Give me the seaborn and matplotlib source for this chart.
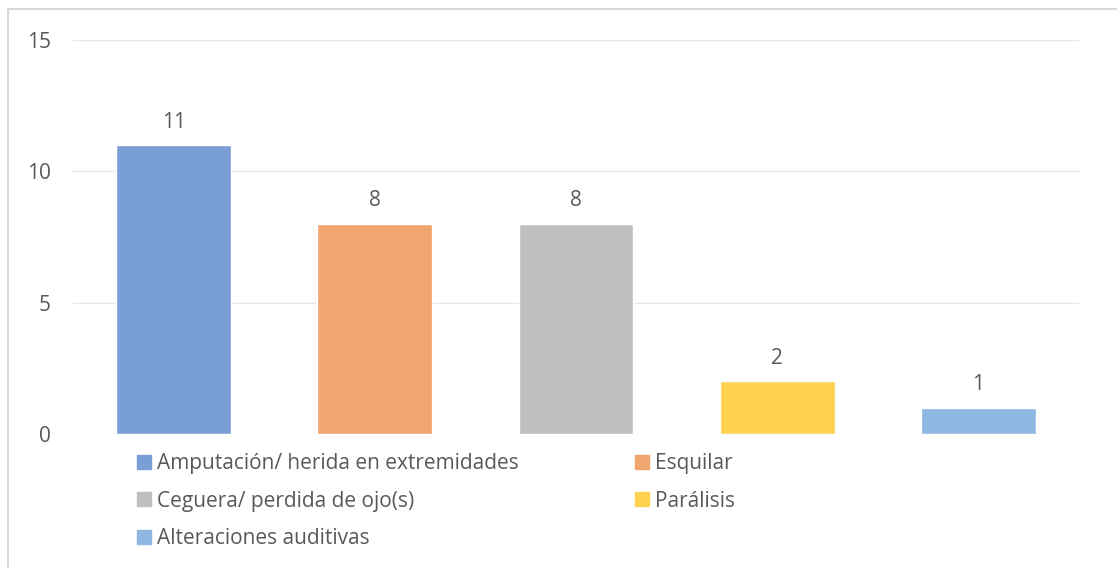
import matplotlib
matplotlib.use("Agg")
import matplotlib.pyplot as plt
import matplotlib.patches as mpatches
from matplotlib.lines import Line2D
import pandas as pd
import seaborn as sns

# data
categories = [
    "Amputación/ herida en extremidades",
    "Esquilar",
    "Ceguera/ perdida de ojo(s)",
    "Parálisis",
    "Alteraciones auditivas",
]
values = [11, 8, 8, 2, 1]
colors = ["#7A9ED6", "#F1A56F", "#BFBFBF", "#FFD34F", "#8EB8E1"]
yticks = [0, 5, 10, 15]

text_color = "#595959"
fs = 15

sns.set_theme(style="white")
plt.rcParams["font.family"] = ["Open Sans", "DejaVu Sans"]

df = pd.DataFrame({"categoria": categories, "valor": values})

fig = plt.figure(figsize=(11.17, 5.68), dpi=100)
ax = fig.add_axes([73 / 1117, 1 - 434 / 568, (1079 - 73) / 1117, (434 - 40) / 568])

sns.barplot(data=df, x="categoria", y="valor", hue="categoria",
            palette=colors, width=0.57, dodge=False, legend=False, ax=ax,
            saturation=1)

for c in ax.containers:
    ax.bar_label(c, padding=9, fontsize=fs, color=text_color)

ax.set_ylim(0, 15)
ax.set_yticks(yticks)
ax.set_xticks([])
ax.set_xlabel("")
ax.set_ylabel("")
ax.tick_params(axis="y", labelsize=fs, labelcolor=text_color, length=0, pad=16)
ax.grid(axis="y", color="#E8E8E8", linewidth=1)
ax.set_axisbelow(True)
for s in ax.spines.values():
    s.set_visible(False)

# legend row-wise in 2 columns -> reorder for column fill
handles = [mpatches.Patch(color=col, label=cat) for cat, col in zip(categories, colors)]
order = [0, 2, 4, 1, 3]
leg = fig.legend([handles[i] for i in order], [categories[i] for i in order],
                 ncol=2, loc="upper left", bbox_to_anchor=(137 / 1117, 1 - 453 / 568),
                 frameon=False, fontsize=fs, labelcolor=text_color,
                 handlelength=0.65, handleheight=0.65, handletextpad=0.3,
                 columnspacing=5.6, labelspacing=0.8, borderaxespad=0, borderpad=0)

# light border (top and left visible in the crop)
fig.add_artist(Line2D([8 / 1117, 8 / 1117, 1.0], [0.0, 1 - 9 / 568, 1 - 9 / 568],
                      transform=fig.transFigure, color="#D9D9D9", linewidth=1.5))

fig.savefig("out.png", dpi=100)
